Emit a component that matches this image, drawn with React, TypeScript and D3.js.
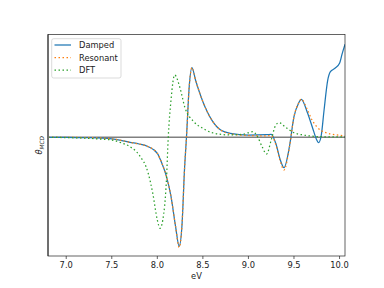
import React from "react";
import * as d3 from "d3";

const dampedX = [6.8, 7.0, 7.2, 7.4, 7.5, 7.6, 7.7, 7.8, 7.9, 8.0, 8.05, 8.1, 8.15, 8.2, 8.24, 8.27, 8.3, 8.32, 8.35, 8.38, 8.42, 8.5, 8.6, 8.7, 8.8, 9.0, 9.2, 9.25, 9.3, 9.35, 9.39, 9.45, 9.5, 9.55, 9.58, 9.65, 9.7, 9.75, 9.77, 9.8, 9.83, 9.87, 9.9, 9.95, 10.0, 10.03, 10.06];
const dampedY = [0, 0, -0.3, -0.8, -1.5, -3, -5, -6.7, -9.4, -16, -26, -39, -59, -89, -109, -89, -29, 0, 50.6, 69.6, 57, 35.6, 17, 7, 4, 2.3, 2.6, 3, -6, -22.7, -30.4, -9.4, 20.6, 34, 38, 24, 10.6, -2.7, -5.4, 2.3, 27, 57, 65.6, 69, 74, 84, 93];

const resonantX = [6.8, 7.0, 7.2, 7.4, 7.5, 7.6, 7.7, 7.8, 7.9, 8.0, 8.05, 8.1, 8.15, 8.2, 8.24, 8.27, 8.3, 8.32, 8.35, 8.38, 8.42, 8.5, 8.6, 8.7, 8.8, 9.0, 9.2, 9.25, 9.3, 9.35, 9.39, 9.45, 9.5, 9.55, 9.58, 9.65, 9.7, 9.75, 9.8, 9.85, 9.9, 10.0, 10.06];
const resonantY = [0, 0, -0.3, -0.8, -1.5, -3, -5, -6.7, -9.4, -16, -26, -39, -59, -89, -110, -89, -29, 0, 50.6, 69.6, 57, 35.6, 17, 7, 3.5, 1.8, 1.5, 1.8, -7, -24, -32.7, -10, 20.6, 34, 38, 27, 17, 10.6, 6.6, 4.6, 3.3, 2, 1.3];

const dftX = [6.8, 7.0, 7.2, 7.3, 7.4, 7.5, 7.6, 7.7, 7.8, 7.9, 7.95, 8.0, 8.03, 8.06, 8.1, 8.12, 8.15, 8.19, 8.25, 8.3, 8.4, 8.5, 8.6, 8.8, 8.95, 9.05, 9.1, 9.15, 9.2, 9.25, 9.3, 9.34, 9.4, 9.5, 9.6, 9.8, 10.06];
const dftY = [0, -0.3, -0.8, -1.3, -2, -2.7, -5.4, -9.4, -17.7, -36, -56, -82.7, -91, -82.7, -42.7, 0, 37, 62.3, 49, 30.6, 15.6, 9, 4.6, 2.3, 3.3, 5.6, 0.6, -9.4, -16.7, -2.7, 12.3, 14.6, 10.6, 4.6, 2.3, 0.6, 0.3];

const xTicks = [7.0, 7.5, 8.0, 8.5, 9.0, 9.5, 10.0];
const legendLabels = ["Damped", "Resonant", "DFT"];

const W = 384, H = 288;
const L = 48, R = 345, T = 34.5, B = 256;

export default function App() {
  const x = d3.scaleLinear().domain([6.8, 10.06]).range([L, R]);
  const y = d3.scaleLinear().domain([-118.7, 102.8]).range([B, T]);
  const line = d3.line<[number, number]>().x(d => x(d[0])).y(d => y(d[1])).curve(d3.curveMonotoneX);
  const toPts = (xs: number[], ys: number[]) => xs.map((v, i) => [v, ys[i]] as [number, number]);
  const series = [
    { pts: toPts(dampedX, dampedY), color: "#1f77b4", dash: undefined as string | undefined },
    { pts: toPts(resonantX, resonantY), color: "#ff7f0e", dash: "1.5,2.5" },
    { pts: toPts(dftX, dftY), color: "#2ca02c", dash: "1.5,2.5" },
  ];
  const font = "DejaVu Sans, sans-serif";
  return (
    <svg width={W} height={H} style={{ position: "absolute", left: 0, top: 0 }} xmlns="http://www.w3.org/2000/svg">
      <rect x={0} y={0} width={W} height={H} fill="#fff" />
      <defs>
        <clipPath id="clip"><rect x={L} y={T} width={R - L} height={B - T} /></clipPath>
      </defs>
      <g clipPath="url(#clip)">
        <line x1={L} x2={R} y1={y(0)} y2={y(0)} stroke="#808080" strokeWidth={1.5} />
        {series.map((s, i) => (
          <path key={i} d={line(s.pts) || ""} fill="none" stroke={s.color} strokeWidth={1.25} strokeDasharray={s.dash} />
        ))}
      </g>
      <line x1={L} x2={L} y1={T} y2={B} stroke="#999" strokeWidth={2} />
      <rect x={L} y={T} width={R - L} height={B - T} fill="none" stroke="#222" strokeWidth={0.7} />
      {xTicks.map(t => (
        <g key={t}>
          <line x1={x(t)} x2={x(t)} y1={B} y2={B + 3} stroke="#222" strokeWidth={0.7} />
          <text x={x(t)} y={B + 12} fontSize={8.3} fontFamily={font} textAnchor="middle" fill="#222">{t.toFixed(1)}</text>
        </g>
      ))}
      <text x={196.5} y={279} fontSize={8.3} fontFamily={font} textAnchor="middle" fill="#222">eV</text>
      <text transform={`translate(42,${(T + B) / 2}) rotate(-90)`} fontSize={8.3} fontFamily={font} textAnchor="middle" fill="#222">
        <tspan fontStyle="italic">θ</tspan><tspan fontSize={5.8} fontStyle="italic" dy={2}>MCD</tspan>
      </text>
      <g>
        <rect x={51.7} y={38.7} width={69.3} height={39.3} rx={2} fill="#fff" fillOpacity={0.8} stroke="#ccc" strokeWidth={0.7} />
        {legendLabels.map((lab, i) => {
          const yy = 45 + i * 12.6;
          return (
            <g key={lab}>
              <line x1={54.5} x2={71} y1={yy} y2={yy} stroke={series[i].color} strokeWidth={1.25} strokeDasharray={series[i].dash} />
              <text x={79} y={yy + 3} fontSize={8.3} fontFamily={font} fill="#222">{lab}</text>
            </g>
          );
        })}
      </g>
    </svg>
  );
}
